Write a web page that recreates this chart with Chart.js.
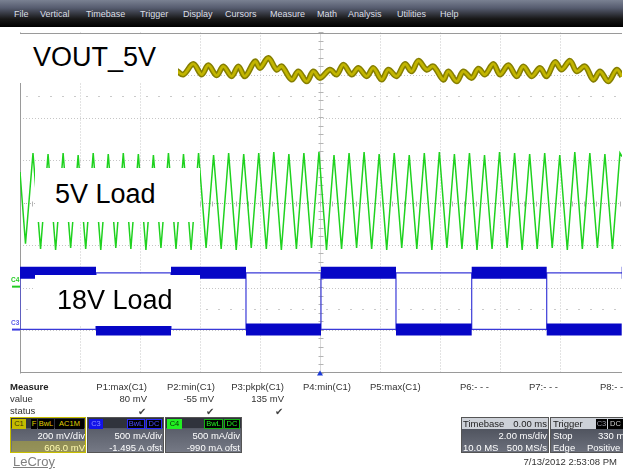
<!DOCTYPE html>
<html><head><meta charset="utf-8">
<script src="https://cdn.jsdelivr.net/npm/chart.js@4/dist/chart.umd.min.js"></script>
<style>
html,body{margin:0;padding:0;background:#fff;}
body{width:623px;height:471px;position:relative;overflow:hidden;font-family:'Liberation Sans',Arial,sans-serif;}
#c{position:absolute;left:0;top:0;}
.t{position:absolute;white-space:nowrap;}
.box{position:absolute;box-sizing:border-box;overflow:hidden;}
.menu{position:absolute;left:0;top:0;width:623px;height:27px;background:linear-gradient(to bottom,#7a8192 0%,#555b6e 30%,#181818 70%,#000 100%);}
</style></head><body>
<canvas id="c" width="623" height="471"></canvas>
<div class="menu"></div>
<div id="ui"></div>
<script>
// ---------------- data ----------------
// time axis: 2.00 ms/div, 10 divisions, trigger at 0 ms
const gridTimes = [-8,-6,-4,-2,2,4,6,8];
const gridDivs = [-3,-2,-1,1,2,3];
// channel settings
const c1VoltsPerDiv = 200, c1Offset = 606;      // mV
const c3AmpsPerDiv = 500, c3Offset = -1495;     // mA
const c4AmpsPerDiv = 500, c4Offset = -990;      // mA

// C1 (VOUT_5V, AC coupled) ripple, mV
const yellowTimes = [-4.778,-4.556,-4.222,-3.944,-3.722,-3.444,-3.222,-2.944,-2.722,-2.5,-2.167,-2.0,-1.722,-1.444,-1.278,-0.944,-0.722,-0.444,-0.222,0,0.333,0.556,0.778,1.056,1.278,1.556,1.778,2.056,2.278,2.556,2.833,3.056,3.278,3.556,3.778,4.111,4.278,4.556,4.778,5.056,5.278,5.5,5.778,6.0,6.278,6.556,6.778,7.056,7.333,7.556,7.833,8.056,8.333,8.556,8.833,9.111,9.333,9.611,9.889,10.067];
const yellowMv = [14,-4,46,-4,40,-8,35,-12,35,-12,58,27,74,19,35,-28,11,-36,11,-20,19,-4,43,-4,27,-12,27,-28,19,-12,46,11,61,19,35,-28,11,-36,11,-20,24,-4,46,-4,40,-12,35,-12,27,-12,55,19,61,11,35,-28,11,-36,19,-12];

// C4 (5V load current) triangle vertices, mA
const greenTimes = [-10,-9.817,-9.567,-9.315,-9.065,-8.813,-8.563,-8.312,-8.062,-7.810,-7.560,-7.308,-7.058,-6.807,-6.557,-6.305,-6.055,-5.803,-5.553,-5.302,-5.052,-4.800,-4.550,-4.298,-4.048,-3.797,-3.547,-3.295,-3.045,-2.793,-2.543,-2.292,-2.042,-1.790,-1.540,-1.288,-1.038,-0.787,-0.537,-0.285,-0.035,0.217,0.467,0.719,0.969,1.220,1.470,1.722,1.972,2.224,2.474,2.725,2.975,3.227,3.477,3.729,3.979,4.230,4.480,4.732,4.982,5.234,5.484,5.735,5.985,6.237,6.487,6.739,6.989,7.240,7.490,7.742,7.992,8.244,8.494,8.745,8.995,9.247,9.497,9.749,9.999,10.067];
const greenMa = [1349,505,1572,443,1560,431,1572,455,1549,443,1572,431,1560,455,1572,443,1560,431,1549,455,1572,443,1560,431,1572,455,1549,443,1572,431,1560,455,1572,443,1584,431,1560,443,1572,455,1584,431,1549,443,1572,455,1584,443,1560,431,1572,455,1549,443,1572,431,1584,455,1560,443,1572,431,1549,443,1584,455,1572,431,1560,443,1572,455,1549,431,1584,443,1572,455,1560,443,1572,1530];

// C3 (18V load current) square wave: edge times (ms) and level between edges (mA)
const blueEdges = [-10,-7.467,-4.967,-2.467,0.033,2.533,5.057,7.557,10.057,10.067];
const blueMa = [668,2,668,2,668,2,668,2,668];

// ---------------- build datasets ----------------
const yellowPts = yellowTimes.map((t,i)=>({x:t,y:yellowMv[i]}));
const greenPts = greenTimes.map((t,i)=>({x:t,y:greenMa[i]}));
const blueBand = [];
for (let i=0;i<blueMa.length;i++){
  blueBand.push({x:blueEdges[i],y:blueMa[i]},{x:blueEdges[i+1],y:blueMa[i]},{x:blueEdges[i+1],y:null});
}
const blueStep = blueMa.map((v,i)=>({x:blueEdges[i],y:v}));
blueStep.push({x:blueEdges[blueEdges.length-1],y:blueMa[blueMa.length-1]});

function line(ctx,x1,y1,x2,y2){ctx.beginPath();ctx.moveTo(x1,y1);ctx.lineTo(x2,y2);ctx.stroke();}

const scopeGrid = {
  id:'scopeGrid',
  beforeDatasetsDraw(chart){
    const {ctx, chartArea:a, scales} = chart;
    const xs = scales.x, yd = scales.yDiv;
    ctx.save();
    ctx.lineWidth = 1;
    ctx.strokeStyle = '#c6c6c6';
    ctx.setLineDash([1,2]);
    for (const t of gridTimes){ const x=Math.round(xs.getPixelForValue(t))+0.5; line(ctx,x,a.top,x,a.bottom); }
    for (const d of gridDivs){ const y=Math.round(yd.getPixelForValue(d))+0.5; line(ctx,a.left,y,a.right,y); }
    // half-division dotted marks
    ctx.strokeStyle = '#cacaca';
    ctx.setLineDash([2,10]);
    for (const d of [2.5,-2.5]){ const y=Math.round(yd.getPixelForValue(d))+0.5; line(ctx,a.left+6,y,a.right,y); }
    // centre cross with minor ticks
    ctx.strokeStyle = '#b4b4b4';
    const cx = Math.round(xs.getPixelForValue(0))+0.5, cy = Math.round(yd.getPixelForValue(0))+0.5;
    ctx.setLineDash([1,1]);
    line(ctx,cx,a.top,cx,a.bottom);
    line(ctx,a.left,cy,a.right,cy);
    ctx.setLineDash([]);
    for (let d=-4; d<=4.001; d+=0.2){ const y=Math.round(yd.getPixelForValue(d))+0.5; line(ctx,cx-2,y,cx+3,y); }
    for (let t=-10; t<=10.001; t+=0.4){ const x=Math.round(xs.getPixelForValue(t))+0.5; line(ctx,x,cy-2,x,cy+3); }
    // frame
    ctx.strokeStyle = '#9a9a9a';
    line(ctx,a.left+0.5,a.top,a.left+0.5,a.bottom+1);
    line(ctx,a.left,Math.round(a.top)+0.5,a.right,Math.round(a.top)+0.5);
    line(ctx,a.left,Math.round(a.bottom)-0.5,a.right,Math.round(a.bottom)-0.5);
    ctx.restore();
  },
  afterDraw(chart){
    const {ctx, chartArea:a, scales} = chart;
    ctx.save();
    // channel ground markers
    ctx.lineWidth = 2;
    ctx.strokeStyle = '#22cc22';
    let y = scales.yC4.getPixelForValue(0); line(ctx,12,y,a.left,y);
    ctx.strokeStyle = '#3a3ae0';
    y = scales.yC3.getPixelForValue(0); line(ctx,12,y,a.left,y);
    // trigger marker
    const x = scales.x.getPixelForValue(0);
    ctx.fillStyle = '#1a3ad8';
    ctx.beginPath(); ctx.moveTo(x,a.bottom-2); ctx.lineTo(x-3,a.bottom+3); ctx.lineTo(x+3,a.bottom+3); ctx.closePath(); ctx.fill();
    ctx.restore();
  }
};

new Chart(document.getElementById('c'), {
  type:'line',
  data:{datasets:[
    {data:yellowPts, yAxisID:'yC1', borderColor:'#c2b500', borderWidth:2.8, tension:0.35, order:0},
    {data:yellowPts, yAxisID:'yC1', borderColor:'#857e00', borderWidth:5.8, tension:0.35, order:1},
    {data:greenPts, yAxisID:'yC4', borderColor:'#1fd21f', borderWidth:1.5, tension:0, order:3},
    {data:blueBand, yAxisID:'yC3', borderColor:'#0606c6', borderWidth:12, spanGaps:false, tension:0, order:2},
    {data:blueStep, yAxisID:'yC3', borderColor:'#3a3ad8', borderWidth:1.2, stepped:'after', tension:0, order:2}
  ]},
  options:{
    responsive:false, animation:false, devicePixelRatio:1,
    layout:{padding:{left:20,right:1,top:32.5,bottom:98.5}},
    elements:{point:{radius:0}},
    plugins:{legend:{display:false},tooltip:{enabled:false}},
    scales:{
      x:{type:'linear',min:-10,max:10.067,display:false},
      yDiv:{type:'linear',min:-4,max:4,display:false},
      yC1:{type:'linear',min:-4*c1VoltsPerDiv-c1Offset,max:4*c1VoltsPerDiv-c1Offset,display:false},
      yC3:{type:'linear',min:-4*c3AmpsPerDiv-c3Offset,max:4*c3AmpsPerDiv-c3Offset,display:false},
      yC4:{type:'linear',min:-4*c4AmpsPerDiv-c4Offset,max:4*c4AmpsPerDiv-c4Offset,display:false}
    }
  },
  plugins:[scopeGrid]
});

// ---------------- text / UI ----------------
const ui = document.getElementById('ui');
function T(x, base, s, o={}){
  const f = o.f || 9.5;
  const d = document.createElement('div'); d.className='t';
  d.textContent = s;
  d.style.fontSize = f+'px'; d.style.lineHeight = f+'px';
  d.style.top = (base - 0.8465*f)+'px';
  if (o.r) d.style.right = (623 - x)+'px'; else d.style.left = x+'px';
  d.style.color = o.c || '#333';
  if (o.b) d.style.fontWeight = 'bold';
  if (o.css) Object.assign(d.style, o.css);
  ui.appendChild(d);
  return d;
}
function R(x,y,w,h,css){
  const d = document.createElement('div'); d.className='box';
  Object.assign(d.style,{left:x+'px',top:y+'px',width:w+'px',height:h+'px'},css||{});
  ui.appendChild(d); return d;
}
function badge(x,y,w,s,bg,fg,bd){
  R(x,y,w,10,{background:bg,border:bd?('1px solid '+bd):'none'});
  T(x+w/2,y+8,s,{f:7.5,c:fg,css:{transform:'translateX(-50%)'}});
}

// menu bar
const menuItems = ['File','Vertical','Timebase','Trigger','Display','Cursors','Measure','Math','Analysis','Utilities','Help'];
const menuX = [14,40,86,140,183,225,270,317,348,397,440];
menuItems.forEach((m,i)=>T(menuX[i],17.5,m,{f:9,c:'#dcdfe6'}));

// trace labels (white boxes)
R(7,34,171,49,{background:'#fff'});
T(33,67,'VOUT_5V',{f:27,c:'#000'});
R(35,168,165,54,{background:'#fff'});
T(55,204,'5V Load',{f:27,c:'#000'});
R(35,275,165,51,{background:'#fff'});
T(57,310,'18V Load',{f:27,c:'#000'});

// channel ground marker labels
T(11,283,'C4',{f:6.5,c:'#22cc22',b:1});
T(11,326,'C3',{f:6.5,c:'#5a5ae8',b:1});

// measure table
T(10,390,'Measure',{b:1,c:'#222'});
T(10,402,'value');
T(10,414.5,'status');
T(147,390,'P1:max(C1)',{r:1});
T(215,390,'P2:min(C1)',{r:1});
T(284,390,'P3:pkpk(C1)',{r:1});
T(303,390,'P4:min(C1)');
T(370,390,'P5:max(C1)');
T(460,390,'P6:- - -');
T(529,390,'P7:- - -');
T(600,390,'P8:- - -');
T(147,402,'80 mV',{r:1});
T(214,402,'-55 mV',{r:1});
T(284,402,'135 mV',{r:1});
T(146,415,'\u2714',{r:1,f:10,c:'#444'});
T(214,415,'\u2714',{r:1,f:10,c:'#444'});
T(283,415,'\u2714',{r:1,f:10,c:'#444'});

// channel boxes
const boxBg = 'linear-gradient(to bottom,#30333c 0,#30333c 30%,#5a5e6a 31%,#757985 100%)';
R(10,417,76,36,{background:boxBg,border:'1.5px solid #c8bf00'});
R(11.5,441,73,10.5,{background:'rgba(190,180,40,0.45)'});
badge(12,418.5,14,'C1','#c4bb00','#3a3800');
badge(31,418.5,6,'F','#000','#e0d000');
badge(38,418.5,16,'BwL','#000','#e0d000');
badge(55,418.5,29,'AC1M','#000','#e0d000');
T(85,439.5,'200 mV/div',{r:1,c:'#fff'});
T(85,451.5,'606.0 mV',{r:1,c:'#fffbb0'});

R(87,417,77,36,{background:boxBg,border:'1px solid #555'});
badge(89,418.5,14,'C3','#1212e8','#8c8cff');
badge(127,418.5,18,'BwL','#000','#4a4aff','#2a2aff');
badge(146,418.5,16,'DC','#000','#4a4aff','#2a2aff');
T(162,439.5,'500 mA/div',{r:1,c:'#fff'});
T(162,451.5,'-1.495 A ofst',{r:1,c:'#fff'});

R(165,417,77,36,{background:boxBg,border:'1px solid #555'});
badge(167,418.5,15,'C4','#22ee22','#063006');
badge(204,418.5,19,'BwL','#000','#22ee22','#16b016');
badge(224,418.5,16,'DC','#000','#22ee22','#16b016');
T(240,439.5,'500 mA/div',{r:1,c:'#fff'});
T(240,451.5,'-990 mA ofst',{r:1,c:'#fff'});

// timebase / trigger boxes
const tbBg = 'linear-gradient(to bottom,#cdd1d8 0,#cdd1d8 31%,#50545f 32%,#6c707c 100%)';
R(461,417,88,36,{background:tbBg,border:'1px solid #555'});
T(463,427,'Timebase',{c:'#222'});
T(547,427,'0.00 ms',{r:1,c:'#222'});
T(547,439.5,'2.00 ms/div',{r:1,c:'#fff'});
T(463,451.5,'10.0 MS',{c:'#fff'});
T(547,451.5,'500 MS/s',{r:1,c:'#fff'});
R(550,417,76,36,{background:tbBg,border:'1px solid #555'});
T(553,427,'Trigger',{c:'#222'});
badge(596,418.5,11,'C3','#000','#9a9aa8');
badge(608,418.5,15,'DC','#000','#d0d0d0');
T(553,439.5,'Stop',{c:'#fff'});
T(598,439.5,'330 mA',{c:'#fff'});
T(553,451.5,'Edge',{c:'#fff'});
T(587,451.5,'Positive',{c:'#fff'});

// footer
T(13,466,'LeCroy',{f:13,c:'#808080',css:{textDecoration:'underline'}});
T(617,465.5,'7/13/2012 2:53:08 PM',{r:1,c:'#333'});
</script>
</body></html>
